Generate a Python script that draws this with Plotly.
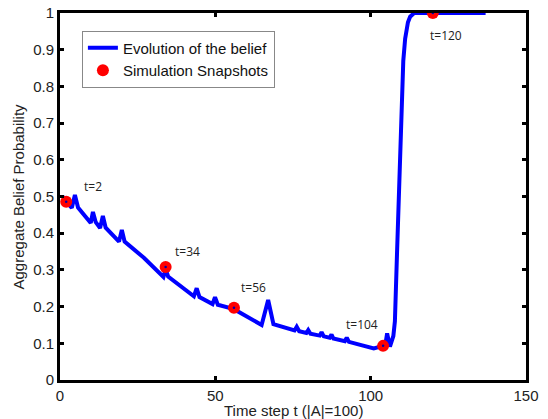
import plotly.graph_objects as go

# Belief evolution curve (time step, aggregate belief probability)
t_vals = [1, 2, 3.8, 4.8, 5.8, 9.9, 10.6, 11.5, 12.9, 13.8, 14.7, 19.0, 19.9, 20.8,
          27, 33.3, 34, 34.8, 43.1, 44, 44.9, 49.1, 49.9, 50.8, 56, 64.9, 67, 68.7,
          75.5, 76.2, 77, 79.3, 79.9, 80.6, 83.6, 84.2, 84.9, 86.8, 87.4, 88,
          91.7, 92.3, 93, 101, 104, 104.7, 105.3, 106.2, 107.3, 107.8, 108.5,
          109.2, 110, 110.5, 111.1, 112, 112.7, 114, 137]
belief = [0.500, 0.486, 0.469, 0.504, 0.470, 0.428, 0.458, 0.430, 0.414, 0.447, 0.415,
          0.377, 0.409, 0.377, 0.333, 0.281, 0.302, 0.282, 0.228, 0.250, 0.226,
          0.207, 0.226, 0.205, 0.193, 0.150, 0.218, 0.152, 0.135, 0.145, 0.133,
          0.128, 0.136, 0.126, 0.121, 0.130, 0.119, 0.115, 0.124, 0.113, 0.106,
          0.115, 0.104, 0.086, 0.093, 0.095, 0.127, 0.091, 0.120, 0.160, 0.350,
          0.550, 0.750, 0.870, 0.930, 0.975, 0.990, 1.000, 1.000]

# Simulation snapshots
snap_t = [2, 34, 56, 104, 120]
snap_y = [0.486, 0.308, 0.197, 0.093, 1.0]
snap_labels = ["t=2", "t=34", "t=56", "t=104", "t=120"]

x_ticks = [0, 50, 100, 150]
y_ticks = [0, 0.1, 0.2, 0.3, 0.4, 0.5, 0.6, 0.7, 0.8, 0.9, 1]
y_tick_text = ["0", "0.1", "0.2", "0.3", "0.4", "0.5", "0.6", "0.7", "0.8", "0.9", "1"]

x_title = "Time step t (|A|=100)"
y_title = "Aggregate Belief Probability"

# label offsets (data units) relative to each snapshot
label_dx = [8.6, 7.2, 6.4, -6.9, 4.4]
label_dy = [0.041, 0.043, 0.054, 0.057, -0.06]

FONT = "Liberation Sans, Arial"

fig = go.Figure()
fig.add_trace(go.Scatter(x=t_vals, y=belief, mode="lines",
                         line=dict(color="#0000ff", width=4),
                         name="Evolution of the belief"))
fig.add_trace(go.Scatter(x=snap_t, y=snap_y, mode="markers",
                         marker=dict(color="#ff0000", size=12, line=dict(width=0)),
                         name="Simulation Snapshots"))
fig.add_trace(go.Scatter(x=snap_t, y=snap_y, mode="markers",
                         marker=dict(color="#0000aa", size=2.5, line=dict(width=0)),
                         showlegend=False, hoverinfo="skip"))

for tx, ty, lab, dx, dy in zip(snap_t, snap_y, snap_labels, label_dx, label_dy):
    fig.add_annotation(x=tx + dx, y=ty + dy, text=lab, showarrow=False,
                       font=dict(family="Open Sans", size=12, color="#222"))

# axis titles as annotations (placed like the reference)
fig.add_annotation(x=0.5, y=-0.084, xref="paper", yref="paper", text=x_title,
                   showarrow=False, xanchor="center", yanchor="middle",
                   font=dict(family=FONT, size=15, color="#222"))
fig.add_annotation(x=-0.088, y=0.5, xref="paper", yref="paper", text=y_title,
                   showarrow=False, xanchor="center", yanchor="middle", textangle=-90,
                   font=dict(family=FONT, size=15, color="#222"))

axis_common = dict(showline=True, linewidth=3, linecolor="black", mirror="ticks",
                   ticks="inside", ticklen=4, tickwidth=3, tickcolor="black",
                   showgrid=False, zeroline=False, automargin=False,
                   tickfont=dict(family=FONT, size=15, color="#222"))

fig.update_layout(
    width=548, height=419,
    margin=dict(l=60, r=22, t=13, b=39),
    paper_bgcolor="white", plot_bgcolor="white",
    xaxis=dict(range=[0, 150], tickvals=x_ticks, **axis_common),
    yaxis=dict(range=[0, 1], tickvals=y_ticks, ticktext=y_tick_text, **axis_common),
    legend=dict(x=0.047, y=0.952, xanchor="left", yanchor="top",
                bordercolor="#888", borderwidth=1, bgcolor="white",
                font=dict(family=FONT, size=15, color="#111"),
                tracegroupgap=0, itemwidth=30),
    showlegend=True,
)

fig.write_html("out.html", config={"displayModeBar": False},
               post_script="document.body.style.margin='0';document.body.style.overflow='hidden';")
